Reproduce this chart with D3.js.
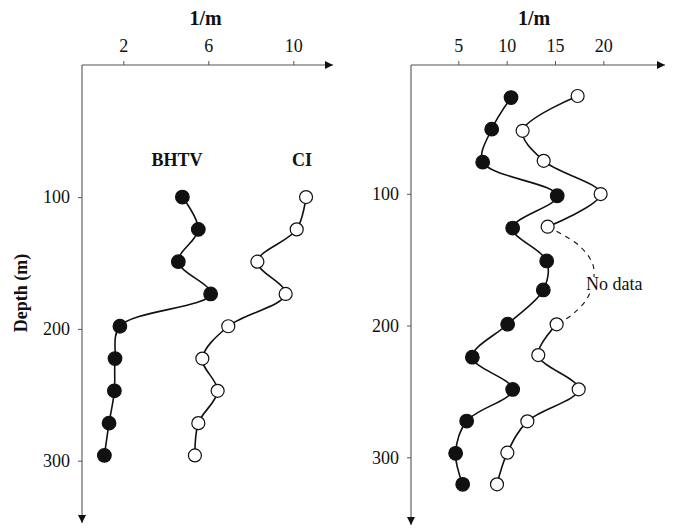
<!DOCTYPE html>
<html><head><meta charset="utf-8">
<script src="https://cdn.jsdelivr.net/npm/d3@7"></script>
<style>
html,body{margin:0;padding:0;background:#fff;}
svg text{font-family:"Liberation Serif","Times New Roman",serif;fill:#111;}
</style></head>
<body>
<svg id="c" width="676" height="528"></svg>
<script>
// ---- Data ----
const leftDepths   = [100, 124.5, 149, 173.5, 198, 222.5, 247, 271.5, 296];
const bhtvLeft     = [4.78, 5.53, 4.59, 6.11, 1.84, 1.61, 1.58, 1.33, 1.11];
const ciLeft       = [10.6, 10.16, 8.31, 9.64, 6.94, 5.72, 6.44, 5.53, 5.37];

const rightClosedDepths = [27, 51, 76, 101.5, 126, 151, 173, 199, 224, 248.5, 272.5, 297, 320.5];
const rightClosedValues = [10.45, 8.45, 7.52, 15.23, 10.62, 14.14, 13.79, 10.1, 6.45, 10.62, 5.86, 4.72, 5.45];

const rightOpenUpperDepths = [25.8, 52.2, 75, 100.2, 125];
const rightOpenUpperValues = [17.34, 11.65, 13.83, 19.72, 14.24];
const rightOpenLowerDepths = [199.1, 222.4, 248.4, 272.7, 296.5, 320.5];
const rightOpenLowerValues = [15.17, 13.27, 17.45, 12.14, 10.07, 9.0];

// dashed "No data" bridge (schematic)
const gapDepths = [125, 140, 156, 177, 191, 199.1];
const gapValues = [14.24, 17.6, 19.0, 18.5, 16.9, 15.17];

const leftTicksX  = [2, 6, 10];
const rightTicksX = [5, 10, 15, 20];
const depthTicks  = [100, 200, 300];
const axisTitle = "1/m";
const depthTitle = "Depth (m)";
const labelBHTV = "BHTV", labelCI = "CI", labelNoData = "No data";

// ---- Scales ----
const xL = d3.scaleLinear().domain([0, 12]).range([80.8, 80.8 + 12 * 21.25]);
const yL = d3.scaleLinear().domain([0, 300]).range([65.3, 460.7]);
const xR = d3.scaleLinear().domain([0, 25]).range([410, 410 + 25 * 9.667]);
const yR = d3.scaleLinear().domain([0, 300]).range([62, 457.3]);

const svg = d3.select("#c");
const defs = svg.append("defs");
defs.append("marker").attr("id","arr").attr("viewBox","0 0 10 10")
  .attr("refX",10).attr("refY",5).attr("markerWidth",9).attr("markerHeight",8)
  .attr("markerUnits","userSpaceOnUse").attr("orient","auto")
  .append("path").attr("d","M0,0L10,5L0,10Z").attr("fill","#111");

const AX = "#555";
function panel(x, y, xTicks, axTop, axLeft, xEnd, yEnd) {
  const g = svg.append("g");
  g.append("line").attr("x1", axLeft).attr("y1", axTop).attr("x2", xEnd).attr("y2", axTop)
    .attr("stroke", AX).attr("stroke-width", 1.1).attr("marker-end","url(#arr)");
  g.append("line").attr("x1", axLeft).attr("y1", axTop).attr("x2", axLeft).attr("y2", yEnd)
    .attr("stroke", AX).attr("stroke-width", 1.1).attr("marker-end","url(#arr)");
  const gx = g.append("g").attr("transform", `translate(0,${axTop})`)
    .call(d3.axisTop(x).tickValues(xTicks).tickSize(4).tickPadding(9).tickSizeOuter(0));
  gx.select(".domain").remove();
  gx.selectAll("line").attr("stroke", AX);
  gx.selectAll("text").attr("font-size", 18).attr("font-family", "Liberation Serif").attr("fill","#111");
  const gy = g.append("g").attr("transform", `translate(${axLeft},0)`)
    .call(d3.axisLeft(y).tickValues(depthTicks).tickSize(4).tickPadding(8).tickSizeOuter(0));
  gy.select(".domain").remove();
  gy.selectAll("line").attr("stroke", AX);
  gy.selectAll("text").attr("font-size", 18).attr("font-family", "Liberation Serif").attr("fill","#111");
  return g;
}

panel(xL, yL, leftTicksX, 65, 82, 333, 523);
panel(xR, yR, rightTicksX, 65, 411, 665, 525);

// titles
svg.append("text").attr("x", 205.5).attr("y", 25).attr("text-anchor","middle")
  .attr("font-size", 20).attr("font-weight","bold").text(axisTitle);
svg.append("text").attr("x", 534).attr("y", 25).attr("text-anchor","middle")
  .attr("font-size", 20).attr("font-weight","bold").text(axisTitle);
svg.append("text").attr("transform","translate(27,293) rotate(-90)").attr("text-anchor","middle")
  .attr("font-size", 18).attr("font-weight","bold").text(depthTitle);

const curve = d3.curveCatmullRom.alpha(0.5);
function series(x, y, depths, vals, dashed) {
  const pts = depths.map((d, i) => ({d, v: vals[i]}));
  const line = d3.line().x(p => x(p.v)).y(p => y(p.d)).curve(curve);
  svg.append("path").attr("d", line(pts)).attr("fill","none")
    .attr("stroke","#111").attr("stroke-width", dashed ? 1.1 : 1.6)
    .attr("stroke-dasharray", dashed ? "5,5" : null);
}
function dots(x, y, depths, vals, filled) {
  svg.append("g").selectAll("circle").data(depths.map((d,i)=>({d, v: vals[i]})))
    .join("circle").attr("cx", p => x(p.v)).attr("cy", p => y(p.d)).attr("r", filled ? 6.8 : 6.5)
    .attr("fill", filled ? "#111" : "#fff").attr("stroke","#111").attr("stroke-width", 1.2);
}

// left panel
series(xL, yL, leftDepths, bhtvLeft);
series(xL, yL, leftDepths, ciLeft);
dots(xL, yL, leftDepths, bhtvLeft, true);
dots(xL, yL, leftDepths, ciLeft, false);

// right panel: dashed bridge + label with white backing
series(xR, yR, gapDepths, gapValues, true);
const bg = svg.append("rect").attr("fill","#fff");
const nd = svg.append("text").attr("x", xR(18.2)).attr("y", yR(173)).attr("font-size", 18)
  .text(labelNoData);
const bb = nd.node().getBBox();
bg.attr("x", bb.x - 2).attr("y", bb.y + 3).attr("width", bb.width + 4).attr("height", bb.height - 6);

series(xR, yR, rightClosedDepths, rightClosedValues);
series(xR, yR, rightOpenUpperDepths, rightOpenUpperValues);
series(xR, yR, rightOpenLowerDepths, rightOpenLowerValues);
dots(xR, yR, rightClosedDepths, rightClosedValues, true);
dots(xR, yR, rightOpenUpperDepths, rightOpenUpperValues, false);
dots(xR, yR, rightOpenLowerDepths, rightOpenLowerValues, false);

// series labels (left panel)
svg.append("text").attr("x", 177).attr("y", 166).attr("text-anchor","middle")
  .attr("font-size", 18).attr("font-weight","bold").text(labelBHTV);
svg.append("text").attr("x", 302).attr("y", 166).attr("text-anchor","middle")
  .attr("font-size", 18).attr("font-weight","bold").text(labelCI);
</script>
</body></html>
